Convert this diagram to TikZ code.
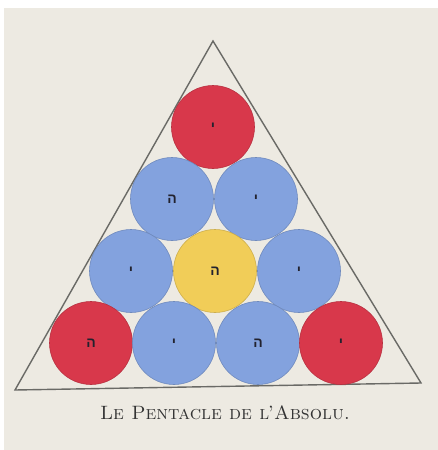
\documentclass[tikz,border=0pt]{standalone}
\usepackage{fontspec}
\usepackage{graphicx}
\newfontfamily\hebfont[Script=Hebrew]{Liberation Sans}
\TeXXeTstate=1

\definecolor{paper}{HTML}{EDEAE2}
\definecolor{inkline}{HTML}{6A6A66}
\definecolor{redball}{HTML}{D8384B}
\definecolor{blueball}{HTML}{83A2DE}
\definecolor{yellowball}{HTML}{F1CD58}
\definecolor{letterink}{HTML}{22222E}

\begin{document}
\begin{tikzpicture}[x=1pt,y=-1pt,
    ball/.style={circle, minimum size=83pt, inner sep=0pt,
        fill=#1, draw=#1!85!black, line width=0.6pt,
        font=\hebfont\bfseries\fontsize{14}{14}\selectfont, text=letterink},
    title/.style={font=\scshape\fontsize{15}{15}\selectfont, text=black!80}
]

    %---------------- FONDO ----------------
    \useasboundingbox (0,0) rectangle (438,450);
    \fill[white] (0,0) rectangle (438,450);
    \fill[paper] (4,8) rectangle (438,450);

    %---------------- TRIANGULO ----------------
    \coordinate (apex) at (213,41);
    \coordinate (baseL) at (15,390);
    \coordinate (baseR) at (421,383);
    \draw[inkline, line width=1.4pt, line join=miter]
    (apex) -- (baseL) -- (baseR) -- cycle;

    %---------------- CIRCULOS ----------------
    % fila 1
    \node[ball=redball] (c11) at (213,127) {\beginR י\endR};

    % fila 2
    \node[ball=blueball] (c21) at (172,199) {\beginR ה\endR};
    \node[ball=blueball] (c22) at (256,199) {\beginR י\endR};

    % fila 3
    \node[ball=blueball] (c31) at (131,271) {\beginR י\endR};
    \node[ball=yellowball] (c32) at (215,271) {\beginR ה\endR};
    \node[ball=blueball] (c33) at (299,271) {\beginR י\endR};

    % fila 4
    \node[ball=redball] (c41) at (91,343) {\beginR ה\endR};
    \node[ball=blueball] (c42) at (174,343) {\beginR י\endR};
    \node[ball=blueball] (c43) at (258,343) {\beginR ה\endR};
    \node[ball=redball] (c44) at (341,343) {\beginR י\endR};

    %---------------- TITULO ----------------
    \node[title] (lbl) at (225,413)
    {\resizebox{250pt}{!}{Le Pentacle de l'Absolu.}};

\end{tikzpicture}
\end{document}
